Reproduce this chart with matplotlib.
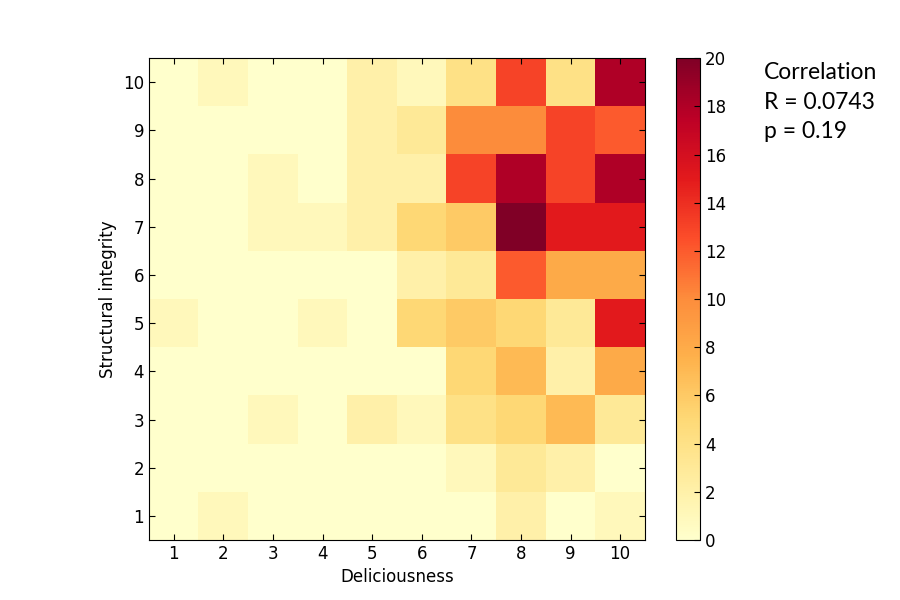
import numpy as np
import matplotlib
matplotlib.use('Agg')
import matplotlib.pyplot as plt

# counts per cell: rows = structural integrity 1..10, cols = deliciousness 1..10
deliciousness = [1, 2, 3, 4, 5, 6, 7, 8, 9, 10]
integrity = [1, 2, 3, 4, 5, 6, 7, 8, 9, 10]
row1 = [0, 1, 0, 0, 0, 0, 0, 2, 0, 1]
row2 = [0, 0, 0, 0, 0, 0, 1, 3, 2, 0]
row3 = [0, 0, 1, 0, 2, 1, 4, 5, 7, 3]
row4 = [0, 0, 0, 0, 0, 0, 5, 7, 2, 8]
row5 = [1, 0, 0, 1, 0, 5, 6, 5, 3, 15]
row6 = [0, 0, 0, 0, 0, 2, 3, 12, 8, 8]
row7 = [0, 0, 1, 1, 2, 5, 6, 20, 15, 15]
row8 = [0, 0, 1, 0, 2, 2, 13, 18, 13, 18]
row9 = [0, 0, 0, 0, 2, 3, 10, 10, 13, 12]
row10 = [0, 1, 0, 0, 2, 1, 4, 13, 4, 18]
R = 0.0743
p = 0.19

grid = np.array([row1, row2, row3, row4, row5, row6, row7, row8, row9, row10])

fig = plt.figure(figsize=(9, 6), dpi=100)
ax = fig.add_axes([0.1656, 0.1, 0.551, 0.803])
im = ax.imshow(grid, cmap='YlOrRd', vmin=0, vmax=20, origin='lower',
               interpolation='nearest', aspect='auto',
               extent=[0.5, 10.5, 0.5, 10.5])
ax.set_xticks(deliciousness)
ax.set_yticks(integrity)
ax.tick_params(direction='in', top=True, right=True, labelsize=12, length=4)
ax.set_xlabel('Deliciousness', fontsize=12)
ax.set_ylabel('Structural integrity', fontsize=12)

cax = fig.add_axes([0.751, 0.1, 0.027, 0.803])
cb = fig.colorbar(im, cax=cax, ticks=range(0, 21, 2))
cb.ax.tick_params(direction='in', labelsize=12, length=4)

fig.text(0.849, 0.896, 'Correlation\nR = %.4f\np = %.2f' % (R, p),
         fontsize=16.5, family='Lato', va='top', ha='left', linespacing=1.5)

fig.savefig('out.png', dpi=100)
